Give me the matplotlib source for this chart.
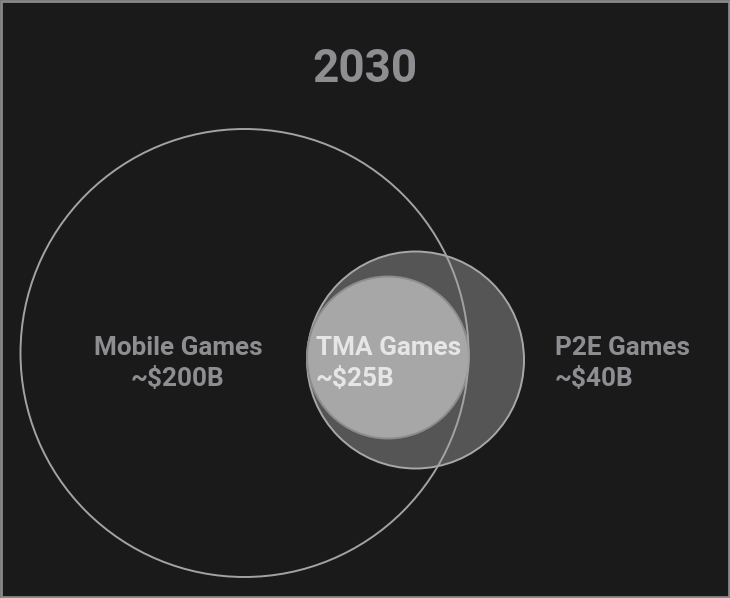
import matplotlib.pyplot as plt
from matplotlib.patches import Circle, Rectangle

plt.rcParams['font.family'] = ['Roboto', 'DejaVu Sans']

title = '2030'
segments = ['Mobile Games', 'P2E Games', 'TMA Games']
values = ['~$200B', '~$40B', '~$25B']

# layout in pixel coordinates (x, y-down), radius
centers = [(244.5, 353), (415.5, 360), (388, 357.5)]
radii = [224, 108.5, 81]
fills = ['none', '#555555', '#a7a7a7']
edges = ['#a3a3a3', '#a8a8a8', '#8c8c8c']
zorders = [5, 2, 3]

label_pos = [(178, 'center'), (555, 'left'), (316, 'left')]
text_colors = ['#8e8d92', '#8e8d92', '#e6e6e6']

bg = '#1a1a1a'
W, H = 730, 598

fig = plt.figure(figsize=(7.3, 5.98), dpi=100)
fig.patch.set_facecolor(bg)
ax = fig.add_axes([0, 0, 1, 1])
ax.set_facecolor(bg)
ax.set_xlim(0, W)
ax.set_ylim(H, 0)
ax.set_aspect('equal')
ax.axis('off')

for (cx, cy), r, fc, ec, z in zip(centers, radii, fills, edges, zorders):
    ax.add_patch(Circle((cx, cy), r, facecolor=fc, edgecolor=ec, lw=1.4, zorder=z))

for name, val, (x, ha), col in zip(segments, values, label_pos, text_colors):
    ax.text(x, 348, name, ha=ha, va='center', color=col, fontsize=18.8,
            fontweight='bold', zorder=6)
    ax.text(x, 379, val, ha=ha, va='center', color=col, fontsize=18.8,
            fontweight='bold', zorder=6)

ax.text(365, 69, title, ha='center', va='center', color='#8e8d92',
        fontsize=33, fontweight='bold')

ax.add_patch(Rectangle((1, 1), W - 2, H - 2, facecolor='none',
                       edgecolor='#8a8a8a', lw=2, zorder=10))

plt.savefig('out.png', dpi=100, facecolor=bg)
